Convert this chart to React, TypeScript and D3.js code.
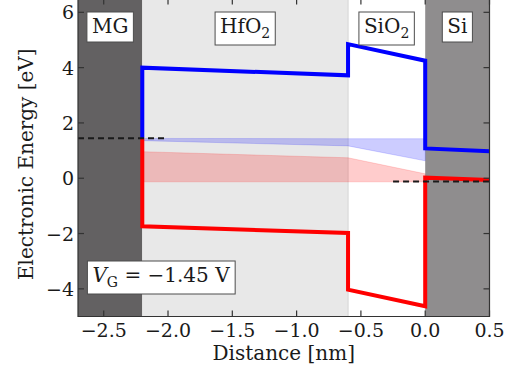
import { useEffect, useRef } from "react";
import * as d3 from "d3";

// layer boundaries along the distance axis [nm]
const regionNames = ["MG", "HfO", "SiO", "Si"];
const regionSubs = ["", "2", "2", ""];
const regionBounds = [-2.7, -2.2, -0.6, 0.0, 0.5];

// conduction band edge (blue) and valence band edge (red)
const bandX = [-2.2, -2.2, -0.6, -0.6, 0.0, 0.0, 0.5];
const conductionE = [1.45, 4.0, 3.72, 4.85, 4.25, 1.08, 0.98];
const valenceE = [1.45, -1.74, -1.98, -4.03, -4.63, 0.02, -0.06];

// trap/occupation shading inside the oxide
const shadeX = [-2.2, -0.6, 0.0];
const blueUpper = [1.44, 1.43, 1.43];
const blueLower = [1.36, 1.17, 0.63];
const redUpper = [0.96, 0.74, 0.16];
const redLower = [-0.13, -0.13, -0.13];

// Fermi levels
const gateFermi = { x: [-2.7, -2.0], e: 1.45 };
const siFermi = { x: [-0.25, 0.5], e: -0.12 };

const xTicks = [-2.5, -2.0, -1.5, -1.0, -0.5, 0.0, 0.5];
const yTicks = [-4, -2, 0, 2, 4, 6];

const App = () => {
	const svgRef = useRef<SVGSVGElement>(null);

	useEffect(() => {
		if (!svgRef.current) return;
		const width = 521;
		const height = 370;
		const font = "DejaVu Serif";

		const svg = d3.select(svgRef.current).attr("width", width).attr("height", height);
		svg.selectAll("*").remove();

		const x = d3.scaleLinear().domain([-2.7, 0.5]).range([78, 489.5]);
		const y = d3.scaleLinear().domain([-5, 6.5]).range([316.5, -1.5]);
		const [x0, x1] = x.range();
		const [y0, y1] = y.range();

		// region backgrounds
		const regionFills = ["#636162", "#e8e8e8", "#ffffff", "#8f8d8e"];
		regionNames.forEach((_n, i) => {
			svg.append("rect")
				.attr("x", x(regionBounds[i]))
				.attr("y", y1)
				.attr("width", x(regionBounds[i + 1]) - x(regionBounds[i]))
				.attr("height", y0 - y1)
				.style("fill", regionFills[i]);
		});

		// faint HfO2/SiO2 interface
		svg.append("line")
			.attr("x1", x(-0.6))
			.attr("x2", x(-0.6))
			.attr("y1", y1)
			.attr("y2", y0)
			.style("stroke", "#d9d9d9")
			.style("stroke-width", 1.2);

		// shaded areas
		const area = d3
			.area<number>()
			.x((_d, i) => x(shadeX[i]));
		const drawShade = (up: number[], lo: number[], color: string) => {
			svg.append("path")
				.attr("d", area.y0((_d, i) => y(lo[i])).y1((_d, i) => y(up[i]))(shadeX))
				.style("fill", color)
				.style("fill-opacity", 0.2)
				.style("stroke", color)
				.style("stroke-opacity", 0.15)
				.style("stroke-width", 1);
		};
		drawShade(redUpper, redLower, "#ff0000");
		drawShade(blueUpper, blueLower, "#0000ff");

		// band edges
		const line = d3
			.line<number>()
			.x((_d, i) => x(bandX[i]));
		svg.append("path")
			.attr("d", line.y((d) => y(d))(conductionE))
			.style("fill", "none")
			.style("stroke", "#0000ff")
			.style("stroke-width", 4)
			.style("stroke-linejoin", "miter");
		svg.append("path")
			.attr("d", line.y((d) => y(d))(valenceE))
			.style("fill", "none")
			.style("stroke", "#ff0000")
			.style("stroke-width", 4)
			.style("stroke-linejoin", "miter");

		// Fermi levels
		[gateFermi, siFermi].forEach((f) => {
			svg.append("line")
				.attr("x1", x(f.x[0]))
				.attr("x2", x(f.x[1]))
				.attr("y1", y(f.e))
				.attr("y2", y(f.e))
				.style("stroke", "#1a1a1a")
				.style("stroke-width", 2)
				.style("stroke-dasharray", "6,4");
		});

		// boxed labels
		const boxLabel = (cx: number, cy: number, build: (t: d3.Selection<SVGTextElement, unknown, null, undefined>) => void) => {
			const g = svg.append("g");
			const rect = g.append("rect");
			const t = g.append("text")
				.attr("x", cx)
				.attr("y", cy)
				.attr("text-anchor", "middle")
				.style("font-family", font)
				.style("font-size", "20px")
				.style("fill", "#1a1a1a");
			build(t);
			const b = (t.node() as SVGTextElement).getBBox();
			rect.attr("x", b.x - 5)
				.attr("y", cy - 21)
				.attr("width", b.width + 10)
				.attr("height", regionSubs.length && b.height + 8 > 27 ? b.height + 6 : 27)
				.style("fill", "white")
				.style("stroke", "#4d4d4d")
				.style("stroke-width", 1);
		};

		regionNames.forEach((n, i) => {
			const cx = x((regionBounds[i] + regionBounds[i + 1]) / 2);
			boxLabel(cx, 33, (t) => {
				t.append("tspan").text(n);
				if (regionSubs[i])
					t.append("tspan").attr("dy", 5).style("font-size", "14px").text(regionSubs[i]);
			});
		});

		boxLabel(161, 282, (t) => {
			t.append("tspan").style("font-style", "italic").text("V");
			t.append("tspan").attr("dy", 5).style("font-size", "14px").text("G");
			t.append("tspan").attr("dy", -5).text(" = −1.45 V");
		});

		// frame
		svg.append("path")
			.attr("d", `M${x0},${y1}V${y0}H${x1}V${y1}`)
			.style("fill", "none")
			.style("stroke", "#333")
			.style("stroke-width", 1.2);

		// ticks (inward, all four sides)
		xTicks.forEach((v) => {
			[[y0, -6], [y1, 6]].forEach(([yy, dl]) => {
				svg.append("line")
					.attr("x1", x(v)).attr("x2", x(v))
					.attr("y1", yy).attr("y2", yy + dl)
					.style("stroke", "#333").style("stroke-width", 1.2);
			});
		});
		yTicks.forEach((v) => {
			[[x0, 6], [x1, -6]].forEach(([xx, dl]) => {
				svg.append("line")
					.attr("x1", xx).attr("x2", xx + dl)
					.attr("y1", y(v)).attr("y2", y(v))
					.style("stroke", "#333").style("stroke-width", 1.2);
			});
		});

		// tick labels
		const fx = d3.format(".1f");
		svg.selectAll(".xtl")
			.data(xTicks)
			.enter()
			.append("text")
			.attr("x", (d) => x(d))
			.attr("y", 337)
			.attr("text-anchor", "middle")
			.style("font-family", font)
			.style("font-size", "19px")
			.style("fill", "#1a1a1a")
			.text((d) => fx(d));
		const fy = d3.format("d");
		svg.selectAll(".ytl")
			.data(yTicks)
			.enter()
			.append("text")
			.attr("x", 74)
			.attr("y", (d) => y(d) + 7)
			.attr("text-anchor", "end")
			.style("font-family", font)
			.style("font-size", "19px")
			.style("fill", "#1a1a1a")
			.text((d) => fy(d));

		// axis titles
		svg.append("text")
			.attr("x", (x0 + x1) / 2)
			.attr("y", 360)
			.attr("text-anchor", "middle")
			.style("font-family", font)
			.style("font-size", "20px")
			.style("fill", "#1a1a1a")
			.text("Distance [nm]");
		svg.append("text")
			.attr("transform", `translate(33, ${(y0 + 12) / 2}) rotate(-90)`)
			.attr("text-anchor", "middle")
			.style("font-family", font)
			.style("font-size", "20px")
			.style("fill", "#1a1a1a")
			.text("Electronic Energy [eV]");
	}, []);

	return <svg ref={svgRef} style={{ position: "absolute", left: 0, top: 0, background: "white" }} />;
};

export default App;
